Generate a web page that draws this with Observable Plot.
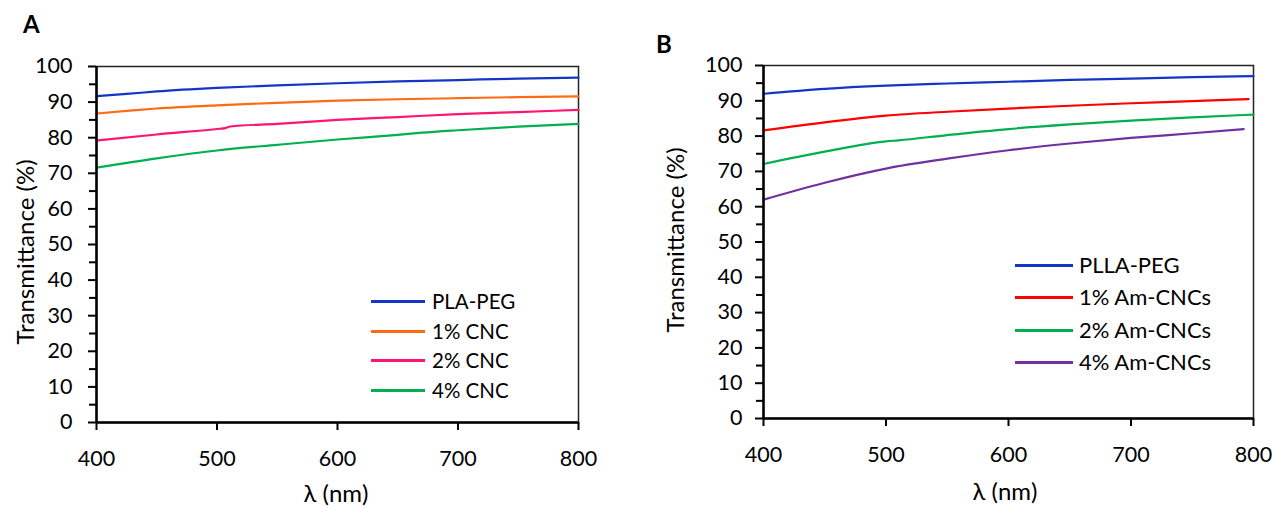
<!DOCTYPE html>
<html>
<head>
<meta charset="utf-8">
<script src="https://cdn.jsdelivr.net/npm/d3@7"></script>
<script src="https://cdn.jsdelivr.net/npm/@observablehq/plot@0.6"></script>
<style>
  body { margin: 0; background: #fff; }
  #wrap { position: relative; width: 1272px; height: 508px; overflow: hidden; font-family: Lato, "Open Sans", sans-serif; color: #000; }
  .panel { position: absolute; top: 0; }
  .txt { position: absolute; white-space: nowrap; line-height: 1; }
  .leg-line { position: absolute; height: 3px; }
</style>
</head>
<body>
<div id="wrap"></div>
<script>
// ---------- Panel A data ----------
const seriesA = ["PLA-PEG", "1% CNC", "2% CNC", "4% CNC"];
const colorsA = ["#1535c8", "#ff6a14", "#ff1470", "#00b050"];
const wlA_pla = [400, 425, 450, 500, 550, 600, 650, 700, 750, 800];
const tA_pla  = [91.7, 92.3, 93.0, 94.0, 94.7, 95.3, 95.8, 96.2, 96.6, 96.9];
const wlA_1   = [400, 430, 450, 500, 550, 600, 650, 700, 750, 800];
const tA_1    = [86.8, 87.7, 88.2, 89.1, 89.8, 90.4, 90.8, 91.1, 91.4, 91.6];
const wlA_2   = [400, 450, 500, 507, 511, 550, 600, 650, 700, 750, 800];
const tA_2    = [79.2, 80.9, 82.45, 82.7, 83.15, 83.9, 85.0, 85.8, 86.6, 87.2, 87.8];
const wlA_4   = [400, 450, 500, 550, 600, 650, 670, 700, 750, 800];
const tA_4    = [71.6, 74.2, 76.4, 78.0, 79.5, 80.8, 81.4, 82.1, 83.1, 83.9];

// ---------- Panel B data ----------
const seriesB = ["PLLA-PEG", "1% Am-CNCs", "2% Am-CNCs", "4% Am-CNCs"];
const colorsB = ["#1535c8", "#ff0000", "#00b050", "#7030a0"];
const wlB_pll = [400, 450, 500, 550, 600, 650, 700, 750, 800];
const tB_pll  = [92.0, 93.4, 94.3, 94.9, 95.4, 95.9, 96.3, 96.7, 97.0];
const wlB_1   = [400, 450, 500, 550, 600, 650, 700, 750, 796];
const tB_1    = [81.6, 83.9, 85.8, 86.9, 87.8, 88.6, 89.3, 89.9, 90.5];
const wlB_2   = [400, 450, 500, 510, 550, 600, 650, 700, 750, 800];
const tB_2    = [72.1, 75.6, 78.5, 78.8, 80.3, 82.0, 83.3, 84.4, 85.3, 86.1];
const wlB_4   = [400, 450, 500, 550, 600, 650, 700, 750, 792];
const tB_4    = [62.0, 66.8, 70.8, 73.6, 76.0, 77.9, 79.5, 80.8, 82.0];

const xTicks = [400, 500, 600, 700, 800];
const yTicks = [0, 10, 20, 30, 40, 50, 60, 70, 80, 90, 100];
const yMinor = [5, 15, 25, 35, 45, 55, 65, 75, 85, 95];

function rows(names, wls, ts) {
  const out = [];
  names.forEach((n, i) => wls[i].forEach((w, j) => out.push({series: n, wl: w, t: ts[i][j]})));
  return out;
}

function panel(names, colors, data, m, yPad) {
  return Plot.plot({
    width: 636, height: 508,
    marginLeft: m.l, marginRight: m.r, marginTop: m.t, marginBottom: m.b,
    style: {fontFamily: "Lato, 'Open Sans', sans-serif", fontSize: "21px", color: "#000", background: "#fff", overflow: "visible"},
    x: {domain: [400, 800]},
    y: {domain: [0, 100]},
    color: {domain: names, range: colors},
    marks: [
      Plot.frame({stroke: "#222", strokeWidth: 1.5}),
      Plot.line(data, {x: "wl", y: "t", z: "series", stroke: "series", strokeWidth: 2.2, curve: "monotone-x"}),
      Plot.ruleX([400], {stroke: "#000", strokeWidth: 2.5}),
      Plot.ruleY([0], {stroke: "#000", strokeWidth: 2.5}),
      Plot.axisX({ticks: xTicks, tickSize: 8, tickPadding: 20, strokeWidth: 2, label: null, fontSize: 21.5}),
      Plot.axisY({ticks: yTicks, tickSize: 8, tickPadding: yPad, strokeWidth: 2, label: null, fontSize: 21.5}),
      Plot.axisY({ticks: yMinor, tickSize: 7, strokeWidth: 2, text: null, label: null})
    ]
  });
}

const wrap = document.getElementById("wrap");

const dataA = rows(seriesA, [wlA_pla, wlA_1, wlA_2, wlA_4], [tA_pla, tA_1, tA_2, tA_4]);
const dataB = rows(seriesB, [wlB_pll, wlB_1, wlB_2, wlB_4], [tB_pll, tB_1, tB_2, tB_4]);

const pA = document.createElement("div"); pA.className = "panel"; pA.style.left = "0px";
pA.appendChild(panel(seriesA, colorsA, dataA, {l: 96, r: 58, t: 66, b: 86}, 16));
wrap.appendChild(pA);

const pB = document.createElement("div"); pB.className = "panel"; pB.style.left = "636px";
pB.appendChild(panel(seriesB, colorsB, dataB, {l: 127, r: 19, t: 65, b: 90}, 13));
wrap.appendChild(pB);

function addText(str, css) {
  const d = document.createElement("div");
  d.className = "txt";
  d.textContent = str;
  Object.assign(d.style, css);
  wrap.appendChild(d);
  return d;
}

// panel letters
addText("A", {left: "23px", top: "12px", fontSize: "24px", fontWeight: "bold"});
addText("B", {left: "656px", top: "32px", fontSize: "24px", fontWeight: "bold"});

// axis titles
function yTitle(str, cx, cy) {
  addText(str, {left: cx + "px", top: cy + "px", fontSize: "24px", transform: "translate(-50%,-50%) rotate(-90deg)"});
}
function xTitle(str, cx, cy) {
  addText(str, {left: cx + "px", top: cy + "px", fontSize: "24px", transform: "translate(-50%,-50%)"});
}
yTitle("Transmittance (%)", 25, 252);
yTitle("Transmittance (%)", 675, 240);
xTitle("λ (nm)", 336, 493);
xTitle("λ (nm)", 1005, 491);

// legends
function legend(names, colors, x0, x1, tx, y0, dy, fs) {
  names.forEach((n, i) => {
    const y = y0 + i * dy;
    const l = document.createElement("div");
    l.className = "leg-line";
    Object.assign(l.style, {left: x0 + "px", width: (x1 - x0) + "px", top: (Math.round(y) - 1) + "px", background: colors[i]});
    wrap.appendChild(l);
    addText(n, {left: tx + "px", top: y + "px", fontSize: fs + "px", transform: "translateY(-50%)"});
  });
}
legend(seriesA, colorsA, 371, 425, 432, 301, 29.5, 20.5);
legend(seriesB, colorsB, 1015, 1073, 1079, 264.5, 32.5, 22);
</script>
</body>
</html>
